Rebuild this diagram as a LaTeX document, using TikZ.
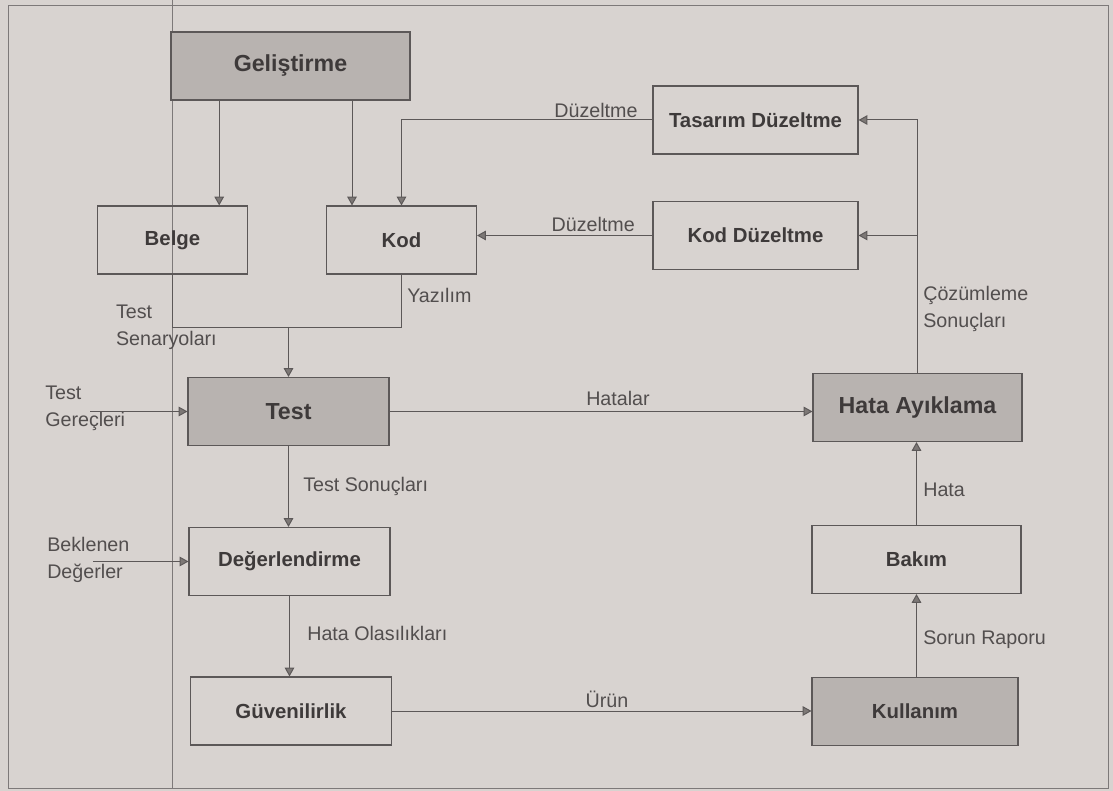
\documentclass[tikz,border=0pt]{standalone}
\usepackage{fontspec}
\setmainfont{Liberation Sans}
\usetikzlibrary{arrows.meta}
\definecolor{paper}{RGB}{216,211,208}
\definecolor{shade}{RGB}{184,179,176}
\definecolor{linegray}{RGB}{92,88,88}
\definecolor{tipgray}{RGB}{125,120,118}
\definecolor{ink}{RGB}{62,58,58}
\definecolor{labelgray}{RGB}{82,78,78}
\begin{document}
\begin{tikzpicture}[
    wire/.style={draw=linegray, line width=0.7pt},
    flow/.style={wire, -{Triangle[length=2.2mm, width=2.4mm, fill=tipgray]}},
    page rule/.style={draw=linegray!80, line width=0.6pt},
    stage/.style={draw=linegray, line width=0.8pt, minimum height=17mm,
        inner sep=2pt, text=ink, font=\fontsize{14.5}{17}\selectfont\bfseries},
    key stage/.style={stage, fill=shade,
        font=\fontsize{16.5}{19}\selectfont\bfseries},
    flow label/.style={font=\fontsize{14}{19}\selectfont, text=labelgray,
        inner sep=1pt, align=left}
]
    \path[use as bounding box, fill=paper] (0,0) rectangle (27.825,19.775);

    % The page frame and its margin rule.
    \draw[page rule] (0.2,0.075) rectangle (27.7,19.65);
    \draw[page rule] (4.3,0.075) -- (4.3,19.775);

    % Development and its products.
    \node[key stage, minimum width=5.975cm] (gel) at (7.2625,18.125) {Geliştirme};
    \node[stage, minimum width=3.75cm] (belge) at (4.3125,13.775) {Belge};
    \node[stage, minimum width=3.75cm] (kod) at (10.0375,13.775) {Kod};

    \coordinate (gel-b) at (5.48,0);
    \coordinate (gel-k) at (8.80,0);
    \draw[flow] (gel.south -| gel-b) -- (belge.north -| gel-b);
    \draw[flow] (gel.south -| gel-k) -- (kod.north -| gel-k);

    % The corrections fed back into the code.
    \node[stage, minimum width=5.125cm] (tasarim) at (18.8875,16.775) {Tasarım Düzeltme};
    \node[stage, minimum width=5.125cm] (koddz) at (18.8875,13.8875) {Kod Düzeltme};
    \draw[flow] (tasarim.west) -| (kod.north);
    \draw[flow] (koddz.west) -- (kod.east |- koddz.west);
    \node[flow label, anchor=south] (dz-t) at (14.90,16.80) {Düzeltme};
    \node[flow label, anchor=south] (dz-k) at (14.83,13.93) {Düzeltme};

    % Test chain down the middle column.
    \node[key stage, minimum width=5.025cm] (test) at (7.2125,9.4875) {Test};
    \node[stage, minimum width=5.025cm] (deger) at (7.2375,5.7375) {Değerlendirme};
    \node[stage, minimum width=5.025cm] (guven) at (7.275,2.00) {Güvenilirlik};

    \coordinate (join) at (7.2125,11.60);
    \draw[wire] (belge.south) -- (belge.south |- join) -- (kod.south |- join)
        -- (kod.south);
    \draw[flow] (join) -- (test.north);
    \draw[flow] (test.south) -- (test.south |- deger.north);
    \draw[flow] (deger.south) -- (deger.south |- guven.north);

    \node[flow label, anchor=west] (senaryo) at (2.86,11.59) {Test\\Senaryoları};
    \node[flow label, anchor=west] (yazilim) at (10.14,12.40) {Yazılım};
    \node[flow label, anchor=west] (sonuc) at (7.54,7.625) {Test Sonuçları};
    \node[flow label, anchor=west] (olasilik) at (7.64,3.95) {Hata Olasılıkları};

    % Inputs from the left.
    \node[flow label, anchor=west] (gerec) at (1.09,9.575) {Test\\Gereçleri};
    \node[flow label, anchor=west] (beklenen) at (1.14,5.775) {Beklenen\\Değerler};
    \coordinate (gerec-in) at (2.25,9.4875);
    \coordinate (beklenen-in) at (2.325,5.7375);
    \draw[flow] (gerec-in) -- (test.west);
    \draw[flow] (beklenen-in) -- (deger.west);

    % Use, maintenance and debugging on the right.
    \node[key stage, minimum width=5.225cm] (hata) at (22.9375,9.5875) {Hata Ayıklama};
    \node[stage, minimum width=5.225cm] (bakim) at (22.9125,5.7875) {Bakım};
    \node[key stage, minimum width=5.15cm,
        font=\fontsize{14.5}{17}\selectfont\bfseries] (kullanim) at (22.875,1.9875) {Kullanım};

    \draw[flow] (test.east) -- (hata.west |- test.east);
    \draw[flow] (guven.east) -- (kullanim.west |- guven.east);
    \draw[flow] (kullanim.north -| bakim.south) -- (bakim.south);
    \draw[flow] (bakim.north) -- (bakim.north |- hata.south);
    \draw[flow] (hata.north) |- (tasarim.east);
    \draw[flow] (hata.north) |- (koddz.east);

    \node[flow label] (hatalar) at (15.45,9.825) {Hatalar};
    \node[flow label] (urun) at (15.175,2.30) {Ürün};
    \node[flow label, anchor=west] (hata-l) at (23.04,7.525) {Hata};
    \node[flow label, anchor=west] (sorun) at (23.04,3.775) {Sorun Raporu};
    \node[flow label, anchor=west] (cozum) at (23.04,12.05) {Çözümleme\\Sonuçları};
\end{tikzpicture}
\end{document}
